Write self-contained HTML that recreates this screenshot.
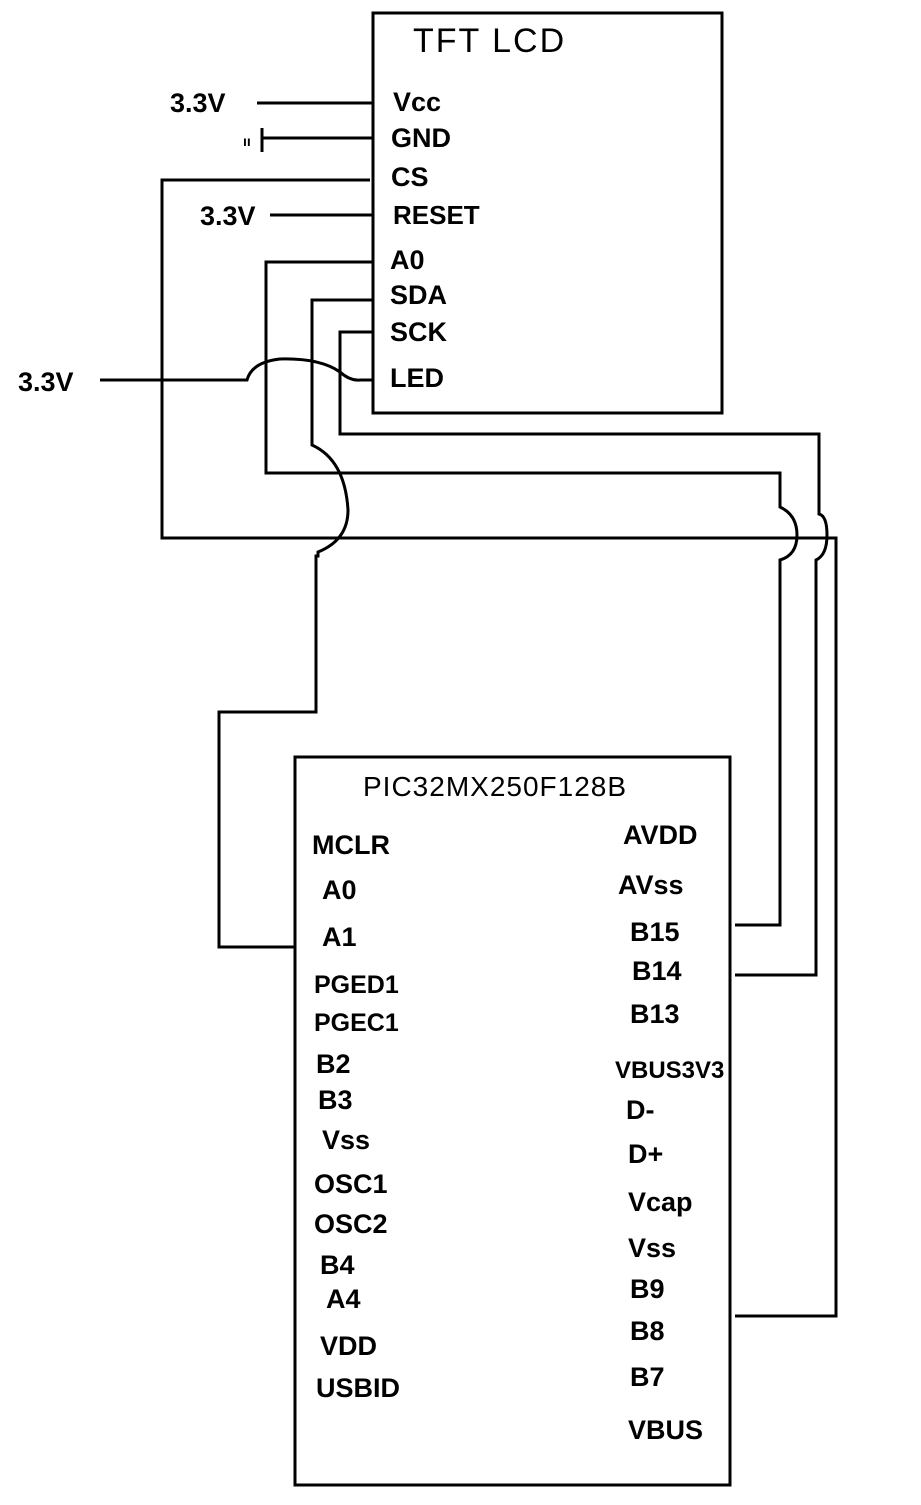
<!DOCTYPE html>
<html><head><meta charset="utf-8"><style>
html,body{margin:0;padding:0;background:#fff}
svg{display:block}
text{font-family:"Liberation Sans Narrow","Liberation Sans",sans-serif;fill:#000;font-size:27px;font-weight:bold}
</style></head><body>
<svg width="921" height="1505" viewBox="0 0 921 1505" xmlns="http://www.w3.org/2000/svg">
<g fill="none" stroke="#000" stroke-width="3">
<rect x="373" y="13" width="349" height="400"/>
<rect x="295" y="757" width="435" height="728"/>
<line x1="257" y1="103" x2="373" y2="103"/>
<line x1="262" y1="138" x2="373" y2="138"/>
<line x1="262" y1="128" x2="262" y2="152"/>
<line x1="270" y1="215" x2="373" y2="215"/>
<polyline points="370,180 162,180 162,538 836,538 836,1316 735,1316"/>
<path d="M373,262 H266 V473 H780 V507 Q797,515 797,535 Q797,555 780,560 V925 H735"/>
<path d="M373,300 H312 V445 Q345,460 348,510 Q348,540 318,552 V556 H316 V712 H219 V947 H295"/>
<path d="M373,332 H340 V434 H819 V514 Q827,516 827,535 Q827,555 816,560 V975 H735"/>
<path d="M100,380 H247 Q252,362 280,359 Q320,358 340,372 Q350,381 360,380 H373"/>
</g>
<text x="243" y="146" style="font-size:14px">ıı</text>
<text x="413" y="52" style="font-size:34px;font-weight:normal;letter-spacing:2px">TFT LCD</text>
<text x="170" y="112">3.3V</text>
<text x="200" y="225">3.3V</text>
<text x="18" y="391">3.3V</text>
<text x="393" y="111">Vcc</text>
<text x="391" y="147">GND</text>
<text x="391" y="186">CS</text>
<text x="393" y="224" style="font-size:26px">RESET</text>
<text x="390" y="269">A0</text>
<text x="390" y="304">SDA</text>
<text x="390" y="341">SCK</text>
<text x="390" y="387">LED</text>
<text x="363" y="796" style="font-size:28px;font-weight:normal;letter-spacing:1px">PIC32MX250F128B</text>
<text x="312" y="854">MCLR</text>
<text x="322" y="899">A0</text>
<text x="322" y="946">A1</text>
<text x="314" y="993" style="font-size:25px">PGED1</text>
<text x="314" y="1031" style="font-size:25px">PGEC1</text>
<text x="316" y="1073">B2</text>
<text x="318" y="1109">B3</text>
<text x="322" y="1149">Vss</text>
<text x="314" y="1193">OSC1</text>
<text x="314" y="1233">OSC2</text>
<text x="320" y="1274">B4</text>
<text x="326" y="1308">A4</text>
<text x="320" y="1355">VDD</text>
<text x="316" y="1397">USBID</text>
<text x="623" y="844">AVDD</text>
<text x="618" y="894">AVss</text>
<text x="630" y="941">B15</text>
<text x="632" y="980">B14</text>
<text x="630" y="1023">B13</text>
<text x="615" y="1078" style="font-size:24px">VBUS3V3</text>
<text x="626" y="1119">D-</text>
<text x="628" y="1163">D+</text>
<text x="628" y="1211">Vcap</text>
<text x="628" y="1257">Vss</text>
<text x="630" y="1298">B9</text>
<text x="630" y="1340">B8</text>
<text x="630" y="1386">B7</text>
<text x="628" y="1439">VBUS</text>
</svg>
</body></html>
